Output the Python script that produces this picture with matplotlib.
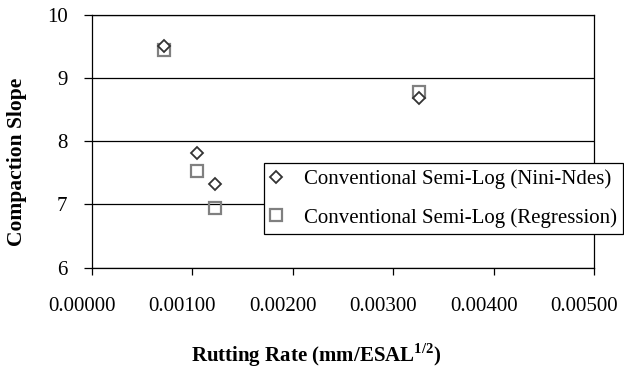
import numpy as np
import matplotlib
matplotlib.use("Agg")
import matplotlib.pyplot as plt
import matplotlib.transforms as mtransforms

# values
rut_rate = [0.00072, 0.00105, 0.00123, 0.00326]
slope_nini = [9.50, 7.82, 7.33, 8.68]
slope_regr = [9.44, 7.53, 6.94, 8.77]

series_labels = [
    "Conventional Semi-Log (Nini-Ndes)",
    "Conventional Semi-Log (Regression)",
]
x_ticks = [0.0, 0.001, 0.002, 0.003, 0.004, 0.005]
y_ticks = [6, 7, 8, 9, 10]

plt.rcParams["font.family"] = ["Liberation Serif", "DejaVu Serif"]
plt.rcParams["mathtext.fontset"] = "custom"
plt.rcParams["mathtext.rm"] = "Liberation Serif"
plt.rcParams["mathtext.bf"] = "Liberation Serif:bold"

fig = plt.figure(figsize=(6.24, 3.69), dpi=100)
ax = fig.add_axes([0.147, 0.2745, 0.9524 - 0.147, 0.9602 - 0.2745])

ax.plot(rut_rate, slope_nini, linestyle="none", marker="D", markersize=6.5,
        markerfacecolor="white", markeredgecolor="#333333", markeredgewidth=1.3,
        label=series_labels[0], zorder=4)
ax.plot(rut_rate, slope_regr, linestyle="none", marker="s", markersize=8.5,
        markerfacecolor="none", markeredgecolor="#808080", markeredgewidth=1.6,
        label=series_labels[1], zorder=3)

ax.set_xlim(0, 0.005)
ax.set_ylim(6, 10)
ax.set_xticks(x_ticks)
ax.set_xticklabels([f"{v:.5f}" for v in x_ticks])
ax.set_yticks(y_ticks)
ax.yaxis.grid(True, color="black", linewidth=0.9)
ax.set_axisbelow(True)

for s in ax.spines.values():
    s.set_color("black")
    s.set_linewidth(0.9)

ax.tick_params(axis="x", direction="out", length=5, width=0.9, pad=16, labelsize=15)
ax.tick_params(axis="y", direction="out", length=5.5, width=0.9, pad=12, labelsize=15)

# x tick labels sit a little left of their ticks in the original
shift = mtransforms.ScaledTranslation(-10 / 100, 0, fig.dpi_scale_trans)
for lbl in ax.get_xticklabels():
    lbl.set_transform(lbl.get_transform() + shift)

ax.set_xlabel(r"Rutting Rate (mm/ESAL$^{\mathbf{1/2}}$)", fontsize=15,
              fontweight="bold")
ax.xaxis.set_label_coords(0.446, -0.29)
ax.set_ylabel("Compaction Slope", fontsize=15.5, fontweight="bold")
ax.yaxis.set_label_coords(-0.129, 0.42)

leg = ax.legend(loc="upper left", bbox_to_anchor=(0.423, 0.5574),
                bbox_transform=fig.transFigure, fontsize=15, frameon=True,
                fancybox=False, edgecolor="black", framealpha=1,
                handlelength=0.6, handletextpad=1.0, labelspacing=0.9,
                borderpad=0.3, borderaxespad=0)
leg.get_frame().set_linewidth(0.9)

fig.savefig("out.png", dpi=100)
